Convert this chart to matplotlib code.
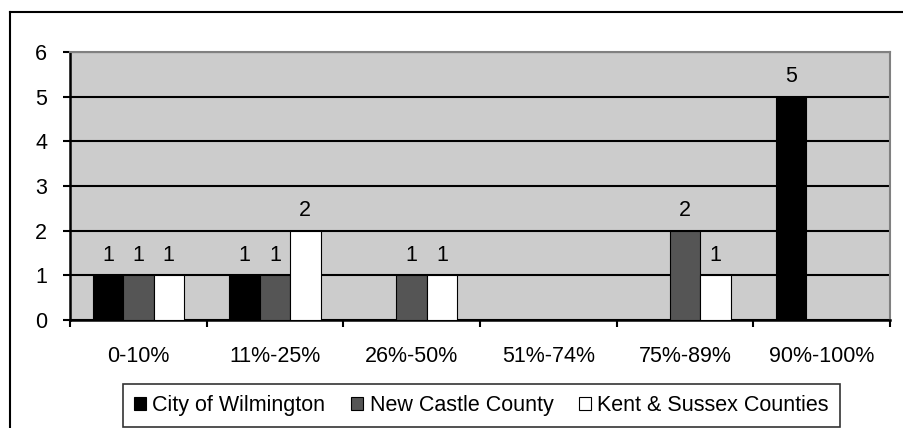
import matplotlib.pyplot as plt
from matplotlib.lines import Line2D
import numpy as np

plt.rcParams['font.family'] = ['Liberation Sans', 'DejaVu Sans']

categories = ['0-10%', '11%-25%', '26%-50%', '51%-74%', '75%-89%', '90%-100%']
series_names = ['City of Wilmington', 'New Castle County', 'Kent & Sussex Counties']
wilmington = [1, 1, 0, 0, 0, 5]
new_castle = [1, 1, 1, 0, 2, 0]
kent_sussex = [1, 2, 1, 0, 1, 0]
colors = ['#000000', '#555555', '#ffffff']

FS = 15.5
W, H = 904, 428
fig = plt.figure(figsize=(W / 100, H / 100), dpi=100, facecolor='white')

# outer chart frame (runs off the right and bottom edges)
fig.add_artist(Line2D([9.5 / W, 9.5 / W], [0, 1 - 12 / H], color='black', lw=1.5, transform=fig.transFigure))
fig.add_artist(Line2D([9.5 / W, 1], [1 - 12 / H, 1 - 12 / H], color='black', lw=1.5, transform=fig.transFigure))

ax = fig.add_axes([70 / W, (H - 320) / H, 820 / W, 268 / H], facecolor='#cccccc')

x = np.arange(len(categories))
bw = 1 / 4.5
for i, (vals, c) in enumerate(zip([wilmington, new_castle, kent_sussex], colors)):
    pos = x + (i - 1) * bw
    ax.bar(pos, vals, width=bw, color=c, edgecolor='black', linewidth=0.8, zorder=3)
    for p, v in zip(pos, vals):
        if v:
            ax.annotate(str(v), (p, v), xytext=(0, 7), textcoords='offset points',
                        ha='center', va='bottom', fontsize=FS, zorder=4)

ax.set_xlim(-0.5, len(categories) - 0.5)
ax.set_ylim(0, 6)
ax.set_yticks(range(7))
ax.yaxis.grid(True, color='black', lw=1.5, zorder=1)
ax.set_axisbelow(True)

ax.set_xticks(np.arange(len(categories) + 1) - 0.5)
ax.set_xticklabels([])
ax.set_xticks(x, minor=True)
ax.set_xticklabels(categories, minor=True, fontsize=FS)
ax.tick_params(axis='x', which='minor', length=0, pad=19)
ax.tick_params(axis='x', which='major', length=5, width=1.5, direction='out')
ax.tick_params(axis='y', length=5, width=1.5, direction='out', labelsize=FS, pad=11.5)

for s in ['left', 'bottom']:
    ax.spines[s].set_color('black')
    ax.spines[s].set_linewidth(1.8)
for s in ['top', 'right']:
    ax.spines[s].set_color('#808080')
    ax.spines[s].set_linewidth(1.5)

handles = [plt.Rectangle((0, 0), 1, 1, facecolor=c, edgecolor='black', lw=0.8) for c in colors]
leg = fig.legend(handles, series_names, ncol=3, loc='center',
                 bbox_to_anchor=(481.5 / W, 1 - 405.5 / H), fontsize=FS,
                 frameon=True, fancybox=False, edgecolor='black',
                 handlelength=0.55, handleheight=0.55, handletextpad=0.3,
                 columnspacing=1.2, borderpad=0.5)
leg.get_frame().set_linewidth(1.2)

fig.savefig('out.png', dpi=100, facecolor='white')
